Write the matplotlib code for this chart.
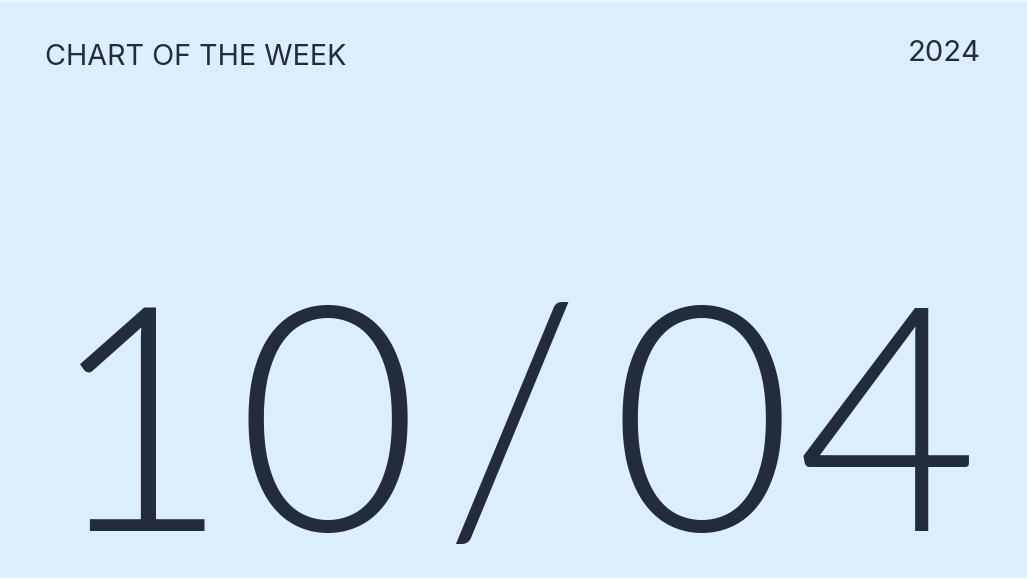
import matplotlib
matplotlib.use("Agg")
import matplotlib.pyplot as plt
from matplotlib.patches import Rectangle

header_left = "CHART OF THE WEEK"
header_right = "2024"
date_chars = ["1", "0", "/", "0", "4"]
date_x = [47, 236, 443, 610, 797]

BG = "#DCEEFD"
INK = "#232C3D"

W, H = 1027, 579
fig = plt.figure(figsize=(W / 100, H / 100), dpi=100)
fig.patch.set_facecolor(BG)
ax = fig.add_axes([0, 0, 1, 1])
ax.set_xlim(0, W)
ax.set_ylim(H, 0)
ax.axis("off")

ax.add_patch(Rectangle((0, 0), W, 1.5, color="#EEF7FE", lw=0))
ax.add_patch(Rectangle((0, H - 2), W, 2, color="#EEF7FE", lw=0))

ax.text(45, 65, header_left, fontsize=20.7, family="Inter", color=INK,
        ha="left", va="baseline")
ax.text(981, 61, header_right, fontsize=21, family="Inter", color=INK,
        ha="right", va="baseline")

for ch, x in zip(date_chars, date_x):
    ax.text(x, 531, ch, fontsize=226, family="Lato", fontweight=300,
            color=INK, ha="left", va="baseline", clip_on=False)

fig.savefig("out.png", dpi=100, facecolor=BG)
